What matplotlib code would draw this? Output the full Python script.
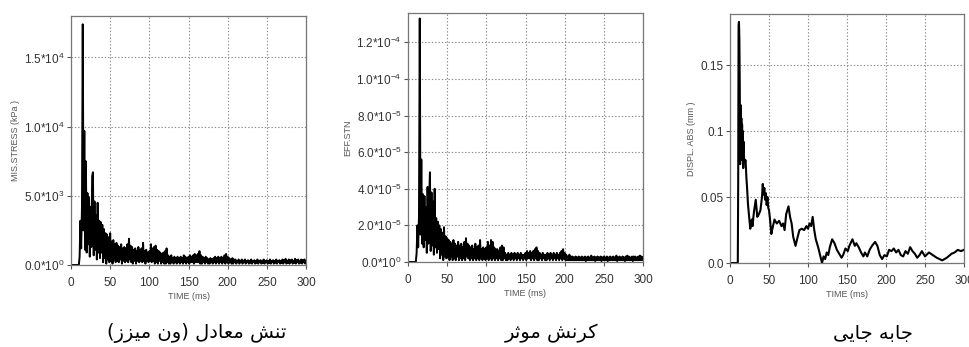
import matplotlib
matplotlib.use("Agg")
import matplotlib.pyplot as plt
import numpy as np

plt.rcParams['font.family'] = ['Liberation Sans', 'DejaVu Sans']
plt.rcParams['mathtext.fontset'] = 'custom'
plt.rcParams['mathtext.rm'] = 'Liberation Sans'
plt.rcParams['mathtext.it'] = 'Liberation Sans:italic'

# --- Data ---
# 1 ms samples, 0..300 ms
STRESS_KPA = [
    0, 0, 0, 0, 0, 0, 0, 0, 0, 0,
    0, 600, 3200, 1200, 4200, 17400, 2500, 9700, 1100, 7500,
    900, 5200, 1500, 4900, 600, 4200, 1300, 6400, 6700, 700,
    4600, 1100, 3600, 400, 4500, 900, 3200, 500, 3100, 900,
    2900, 200, 2600, 500, 2300, 100, 2200, 400, 2000, 200,
    2300, 300, 1700, 100, 1800, 400, 1500, 200, 1600, 300,
    1400, 200, 1300, 400, 1500, 100, 1200, 300, 1300, 200,
    1200, 300, 1500, 200, 1900, 400, 1400, 200, 1300, 100,
    1100, 300, 1200, 100, 1000, 300, 1300, 200, 1100, 300,
    1200, 200, 1600, 300, 1000, 100, 1100, 300, 900, 200,
    1000, 300, 1500, 200, 1200, 300, 1300, 100, 1400, 200,
    1100, 100, 1000, 300, 900, 100, 800, 200, 900, 100,
    1000, 100, 1200, 200, 700, 100, 600, 100, 700, 200,
    500, 100, 600, 200, 500, 100, 600, 200, 500, 100,
    600, 200, 500, 100, 700, 200, 600, 100, 500, 200,
    600, 100, 700, 200, 600, 200, 700, 100, 800, 200,
    700, 200, 800, 200, 1000, 100, 700, 100, 600, 200,
    500, 100, 600, 200, 500, 100, 400, 100, 500, 200,
    400, 100, 500, 200, 600, 100, 500, 200, 600, 100,
    500, 200, 600, 100, 500, 200, 700, 100, 800, 200,
    600, 100, 500, 200, 400, 100, 500, 100, 400, 200,
    400, 100, 300, 200, 400, 100, 300, 200, 400, 100,
    300, 200, 400, 100, 300, 200, 350, 100, 300, 150,
    400, 100, 300, 200, 350, 100, 300, 150, 400, 100,
    300, 200, 350, 100, 300, 150, 400, 100, 300, 200,
    350, 100, 300, 150, 400, 100, 300, 200, 350, 100,
    300, 150, 400, 100, 300, 200, 350, 100, 300, 150,
    400, 100, 350, 200, 450, 100, 300, 150, 400, 100,
    350, 200, 400, 100, 300, 150, 450, 100, 350, 200,
    400, 100, 300, 150, 400, 100, 350, 200, 400, 100,
    300,
]

# effective strain, in units of 1e-6
STRAIN_E6 = [
    0, 0, 0, 0, 0, 0, 0, 0, 0, 0,
    0, 5, 20, 8, 25, 133, 15, 56, 10, 37,
    8, 36, 12, 30, 5, 41, 10, 35, 49, 6,
    38, 9, 33, 4, 40, 8, 24, 5, 22, 7,
    20, 2, 18, 4, 16, 1, 19, 3, 14, 2,
    13, 3, 12, 1, 11, 3, 10, 1, 12, 2,
    10, 1, 9, 3, 11, 1, 9, 2, 10, 1,
    8, 2, 11, 1, 13, 3, 10, 2, 9, 1,
    8, 2, 9, 1, 7, 2, 10, 1, 8, 2,
    9, 1, 12, 2, 7, 1, 8, 2, 7, 1,
    8, 2, 11, 1, 9, 2, 12, 1, 11, 2,
    8, 1, 7, 2, 7, 1, 6, 2, 8, 1,
    9, 1, 8, 2, 5, 1, 4, 1, 5, 2,
    4, 1, 5, 2, 4, 1, 5, 2, 4, 1,
    5, 2, 4, 1, 5, 2, 4, 1, 4, 2,
    5, 1, 6, 2, 5, 2, 6, 1, 5, 2,
    6, 1, 7, 2, 8, 1, 6, 1, 5, 2,
    4, 1, 5, 2, 4, 1, 4, 1, 5, 2,
    4, 1, 5, 2, 4, 1, 5, 2, 4, 1,
    5, 2, 4, 1, 5, 2, 6, 1, 7, 2,
    5, 1, 4, 1, 3, 1, 4, 1, 3, 1,
    3, 1, 2.5, 1, 3, 1, 2.5, 1, 3, 1,
    2.5, 1, 3, 1, 2.5, 1, 3, 0.5, 2.5, 1,
    3, 1, 2.5, 1, 3.5, 1, 2.5, 1, 3, 0.5,
    2.5, 1, 3, 1, 2.5, 1, 3, 0.5, 2.5, 1,
    3, 1, 2.5, 1, 3, 0.5, 2.5, 1, 3, 1,
    2.5, 1, 3, 1, 2.5, 1, 3.5, 0.5, 2.5, 1,
    3, 1, 2.5, 1, 3, 1, 2.5, 0.5, 3, 1,
    3.5, 1, 3, 1, 2.5, 1, 3, 0.5, 3, 1,
    3, 1, 2.5, 1, 3, 1, 3.5, 1, 3, 1,
    2.5,
]

DISP_T = [0, 9, 10, 10.5, 11, 11.5, 12, 12.5, 13, 13.5, 14, 14.5, 15, 15.5, 16,
          16.5, 17, 17.5, 18, 19, 20, 21, 22, 23, 24, 25, 26, 27, 28, 29, 30, 31,
          33, 35, 37, 39, 41, 42, 43, 44, 45, 46, 47, 48, 49, 50, 51, 53, 54, 57,
          60, 63, 66, 68, 70, 72, 75, 77, 79, 81, 84, 86, 89, 92, 95, 98, 100, 102,
          104, 106, 108, 110, 113, 116, 118, 120, 122, 124, 126, 128, 131, 134, 137,
          140, 143, 145, 148, 151, 153, 157, 160, 162, 165, 168, 171, 173, 176, 179,
          182, 186, 189, 192, 195, 198, 201, 204, 207, 210, 213, 216, 219, 222, 225,
          228, 231, 234, 237, 240, 243, 246, 250, 255, 260, 265, 272, 278, 284, 288,
          292, 296, 300]
DISP_MM = [0, 0, 0.0, 0.06, 0.18, 0.183, 0.17, 0.135, 0.075, 0.12, 0.08, 0.11, 0.085,
           0.105, 0.078, 0.10, 0.072, 0.092, 0.08, 0.077, 0.078, 0.065, 0.056, 0.045,
           0.038, 0.032, 0.026, 0.03, 0.033, 0.028, 0.035, 0.04, 0.048, 0.035, 0.037,
           0.04, 0.05, 0.06, 0.052, 0.057, 0.048, 0.053, 0.044, 0.05, 0.042, 0.04,
           0.035, 0.022, 0.025, 0.033, 0.03, 0.032, 0.028, 0.03, 0.025, 0.037, 0.043,
           0.035, 0.03, 0.02, 0.013, 0.018, 0.025, 0.026, 0.025, 0.028, 0.026, 0.03,
           0.028, 0.035, 0.025, 0.018, 0.012, 0.005, 0.0, 0.005, 0.003, 0.008, 0.006,
           0.012, 0.018, 0.015, 0.01, 0.007, 0.004, 0.006, 0.011, 0.009, 0.013, 0.018,
           0.013, 0.015, 0.012, 0.008, 0.005, 0.008, 0.005, 0.01, 0.013, 0.016, 0.013,
           0.006, 0.003, 0.006, 0.005, 0.01, 0.009, 0.011, 0.008, 0.01, 0.006, 0.005,
           0.009, 0.007, 0.012, 0.009, 0.007, 0.004, 0.006, 0.009, 0.005, 0.008, 0.006,
           0.004, 0.002, 0.004, 0.007, 0.008, 0.010, 0.009, 0.010]

X_TICKS = [0, 50, 100, 150, 200, 250, 300]

STRESS_TICKS = [0, 5000, 10000, 15000]
STRESS_LABELS = [r'$\mathregular{0.0{*}10^{0}}$', r'$\mathregular{5.0{*}10^{3}}$',
                 r'$\mathregular{1.0{*}10^{4}}$', r'$\mathregular{1.5{*}10^{4}}$']
STRAIN_TICKS = [0, 2e-5, 4e-5, 6e-5, 8e-5, 1.0e-4, 1.2e-4]
STRAIN_LABELS = [r'$\mathregular{0.0{*}10^{0}}$', r'$\mathregular{2.0{*}10^{-5}}$',
                 r'$\mathregular{4.0{*}10^{-5}}$', r'$\mathregular{6.0{*}10^{-5}}$',
                 r'$\mathregular{8.0{*}10^{-5}}$', r'$\mathregular{1.0{*}10^{-4}}$',
                 r'$\mathregular{1.2{*}10^{-4}}$']
DISP_TICKS = [0, 0.05, 0.1, 0.15]
DISP_LABELS = ['0.0', '0.05', '0.1', '0.15']

CAPTIONS = ['تنش معادل (ون میزز)', 'کرنش موثر', 'جابه جایی']

# --- minimal Persian shaping (matplotlib has no complex text layout) ---
# letter: (isolated, final, initial, medial); two forms only = joins to the right only
FORMS = {
    'ا': ('\uFE8D', '\uFE8E'), 'د': ('\uFEA9', '\uFEAA'), 'ر': ('\uFEAD', '\uFEAE'),
    'ز': ('\uFEAF', '\uFEB0'), 'و': ('\uFEED', '\uFEEE'),
    'ب': ('\uFE8F', '\uFE90', '\uFE91', '\uFE92'), 'ت': ('\uFE95', '\uFE96', '\uFE97', '\uFE98'),
    'ث': ('\uFE99', '\uFE9A', '\uFE9B', '\uFE9C'), 'ج': ('\uFE9D', '\uFE9E', '\uFE9F', '\uFEA0'),
    'ش': ('\uFEB5', '\uFEB6', '\uFEB7', '\uFEB8'), 'ع': ('\uFEC9', '\uFECA', '\uFECB', '\uFECC'),
    'ل': ('\uFEDD', '\uFEDE', '\uFEDF', '\uFEE0'), 'م': ('\uFEE1', '\uFEE2', '\uFEE3', '\uFEE4'),
    'ن': ('\uFEE5', '\uFEE6', '\uFEE7', '\uFEE8'), 'ه': ('\uFEE9', '\uFEEA', '\uFEEB', '\uFEEC'),
    'ی': ('\uFBFC', '\uFBFD', '\uFBFE', '\uFBFF'), 'ک': ('\uFB8E', '\uFB8F', '\uFB90', '\uFB91'),
}
MIRROR = {'(': ')', ')': '('}


def persian(text):
    out = []
    for i, ch in enumerate(text):
        if ch not in FORMS:
            out.append(MIRROR.get(ch, ch))
            continue
        prev = text[i - 1] if i > 0 else ''
        nxt = text[i + 1] if i + 1 < len(text) else ''
        join_prev = prev in FORMS and len(FORMS[prev]) == 4
        join_next = len(FORMS[ch]) == 4 and nxt in FORMS
        f = FORMS[ch]
        if join_prev and join_next:
            out.append(f[3])
        elif join_prev:
            out.append(f[1])
        elif join_next:
            out.append(f[2])
        else:
            out.append(f[0])
    return ''.join(reversed(out))


# --- Figure ---
fig = plt.figure(figsize=(9.69, 3.47), dpi=100)
boxes = [
    [71 / 969, 82 / 347, 235 / 969, 249 / 347],
    [408 / 969, 85 / 347, 235 / 969, 249 / 347],
    [730 / 969, 84 / 347, 234 / 969, 249 / 347],
]
caption_left = [107 / 969, 505 / 969, 833 / 969]
time_ms = np.arange(len(STRESS_KPA))

panels = [
    (time_ms, np.array(STRESS_KPA), 18000, STRESS_TICKS, STRESS_LABELS, 'MIS.STRESS (kPa )', 1.4),
    (time_ms, np.array(STRAIN_E6) * 1e-6, 1.36e-4, STRAIN_TICKS, STRAIN_LABELS, 'EFF.STN', 1.4),
    (np.array(DISP_T), np.array(DISP_MM), 0.189, DISP_TICKS, DISP_LABELS, 'DISPL. ABS (mm )', 1.5),
]

for box, (x, y, ytop, yt, yl, ylab, lw), cap, cl in zip(boxes, panels, CAPTIONS, caption_left):
    ax = fig.add_axes(box)
    ax.plot(x, y, color='black', lw=lw)
    ax.set_xlim(0, 300)
    ax.set_ylim(0, ytop)
    ax.set_xticks(X_TICKS)
    ax.set_yticks(yt)
    ax.set_yticklabels(yl)
    ax.grid(True, linestyle=(0, (1.2, 1.8)), color='#888888', lw=0.8)
    ax.tick_params(direction='out', length=3, width=0.8, color='#555555',
                   labelsize=8.5, labelcolor='#333333')
    ax.tick_params(axis='y', pad=1.5)
    ax.tick_params(axis='x', pad=5.5)
    for s in ax.spines.values():
        s.set_color('#777777')
        s.set_linewidth(0.9)
    ax.set_xlabel('TIME (ms)', fontsize=6.5, color='#555555', labelpad=2)
    ax.set_ylabel(ylab, fontsize=6.5, color='#555555', labelpad=3)
    fig.text(cl, 0.040, persian(cap), fontsize=14, family='DejaVu Sans',
             ha='left', va='center', color='black')

fig.savefig('out.png', dpi=100)
